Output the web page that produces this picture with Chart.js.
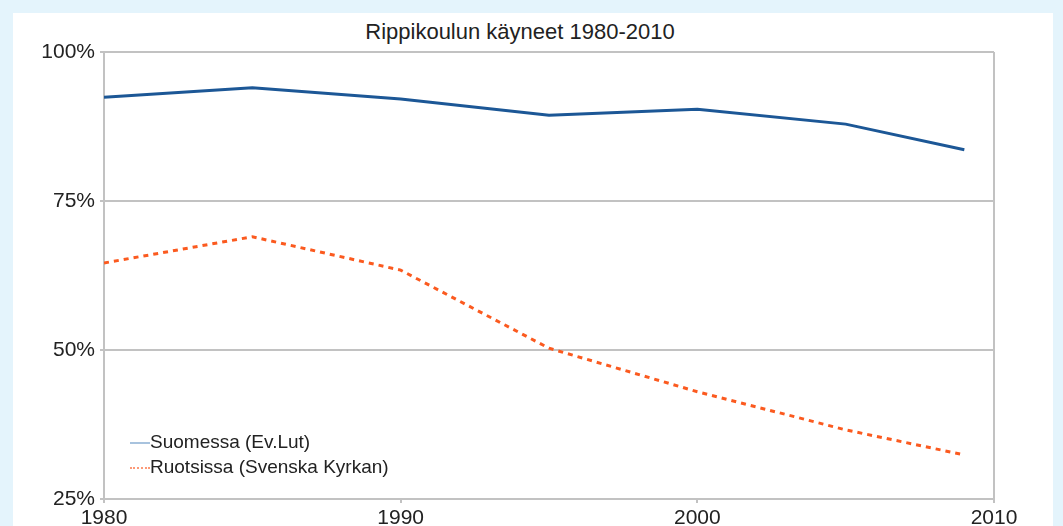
<!DOCTYPE html>
<html>
<head>
<meta charset="utf-8">
<script src="https://cdn.jsdelivr.net/npm/chart.js@4"></script>
<style>
  body { margin: 0; background: #e4f4fc; font-family: "Liberation Sans", Arial, sans-serif; }
  #panel { position: absolute; left: 13px; top: 13px; width: 1040px; height: 513px; background: #fff; overflow: hidden; }
  #myChart { position: absolute; left: 0; top: 0; }
  #title { position: absolute; left: 0; width: 1014px; top: 6px; text-align: center; font-size: 22px; color: #222; }
  #legend { position: absolute; left: 117px; top: 416px; font-size: 19px; color: #222; }
  .row { height: 25px; line-height: 25px; white-space: nowrap; }
  .mark { display: inline-block; width: 20px; vertical-align: middle; margin-right: 0; }
</style>
</head>
<body>
<div id="panel">
  <div id="title">Rippikoulun käyneet 1980-2010</div>
  <canvas id="myChart" width="1040" height="513"></canvas>
  <div id="legend"></div>
</div>
<script>
const years = [1980, 1985, 1990, 1995, 2000, 2005, 2009];
const suomessa = [92.4, 94.0, 92.1, 89.4, 90.4, 87.9, 83.6];
const ruotsissa = [64.6, 69.0, 63.4, 50.3, 43.0, 36.6, 32.4];
const seriesNames = ['Suomessa (Ev.Lut)', 'Ruotsissa (Svenska Kyrkan)'];
const yTicks = [25, 50, 75, 100];
const xTicks = [1980, 1990, 2000, 2010];

const gridGray = '#c2c2c2';
const textFont = { family: '"Liberation Sans", Arial, sans-serif', size: 21 };

function toPoints(values) {
  return years.map((year, i) => ({ x: year, y: values[i] }));
}

function initChart() {
  const ctx = document.getElementById('myChart');

  const chart = new Chart(ctx, {
    type: 'line',
    data: {
      datasets: [{
        label: seriesNames[0],
        data: toPoints(suomessa),
        borderColor: '#1c5796',
        borderWidth: 3,
        pointRadius: 0,
        tension: 0,
        legendColor: '#a8c3de',
        legendDash: 'solid'
      }, {
        label: seriesNames[1],
        data: toPoints(ruotsissa),
        borderColor: '#fb5a1f',
        borderWidth: 3,
        borderDash: [5, 5],
        pointRadius: 0,
        tension: 0,
        legendColor: '#fc9a78',
        legendDash: 'dotted'
      }]
    },
    options: {
      responsive: false,
      animation: false,
      layout: { padding: { top: 39, right: 59, left: 0, bottom: 0 } },
      plugins: {
        legend: { display: false },
        title: { display: false },
        tooltip: { enabled: false }
      },
      scales: {
        x: {
          type: 'linear',
          min: 1980,
          max: 2010,
          afterBuildTicks: (scale) => { scale.ticks = xTicks.map(v => ({ value: v })); },
          afterFit: (scale) => { scale.height = 27; },
          grid: {
            color: (c) => (c.tick && (c.tick.value === 1980 || c.tick.value === 2010)) ? gridGray : 'rgba(0,0,0,0)',
            tickColor: gridGray,
            lineWidth: 2,
            tickLength: 4
          },
          border: { color: gridGray, width: 2 },
          ticks: {
            color: '#222',
            font: textFont,
            padding: 3,
            maxRotation: 0,
            callback: (v) => String(v)
          }
        },
        y: {
          min: 25,
          max: 100,
          afterBuildTicks: (scale) => { scale.ticks = yTicks.map(v => ({ value: v })); },
          afterFit: (scale) => { scale.width = 91; },
          grid: { color: gridGray, lineWidth: 2, tickLength: 4 },
          border: { color: gridGray, width: 2 },
          ticks: {
            color: '#222',
            font: textFont,
            padding: 5,
            callback: (v) => v + '%'
          }
        }
      }
    }
  });

  return chart;
}

function buildLegend(chart) {
  const box = document.getElementById('legend');
  chart.data.datasets.forEach(ds => {
    const row = document.createElement('div');
    row.className = 'row';
    const mark = document.createElement('span');
    mark.className = 'mark';
    mark.style.borderTop = '2px ' + ds.legendDash + ' ' + ds.legendColor;
    row.appendChild(mark);
    row.appendChild(document.createTextNode(ds.label));
    box.appendChild(row);
  });
}

document.addEventListener("DOMContentLoaded", () => {
  const chart = initChart();
  buildLegend(chart);
});
</script>
</body>
</html>
